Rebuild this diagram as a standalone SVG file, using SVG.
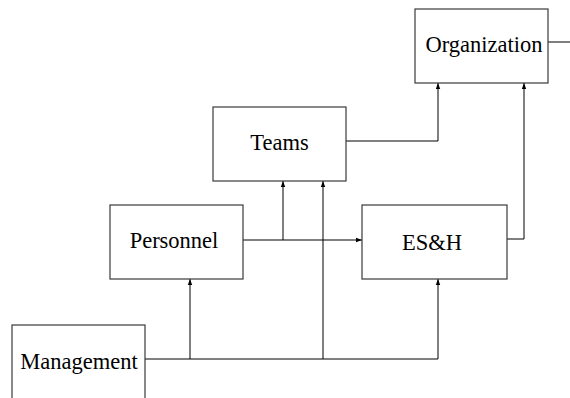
<svg xmlns="http://www.w3.org/2000/svg" width="570" height="398" viewBox="0 0 570 398">
  <style>
    .box { fill: #ffffff; stroke: #3a3a3a; stroke-width: 1.2; }
    .label { font-family: "Liberation Serif", "Times New Roman", serif; font-size: 22.5px; fill: #000000; text-anchor: middle; }
    .wire { fill: none; stroke: #000000; stroke-width: 1; }
  </style>
  <defs>
    <marker id="arrow" viewBox="0 0 6 6" refX="6" refY="3" markerWidth="6" markerHeight="6" markerUnits="userSpaceOnUse" orient="auto">
      <path d="M0,0.8 L6,3 L0,5.2 Z" fill="#000000"/>
    </marker>
  </defs>

  <!-- connectors -->
  <g id="connectors">
    <!-- Teams to Organization -->
    <polyline class="wire" points="346,141 438,141 438,83" marker-end="url(#arrow)"/>
    <!-- ES&H to Organization -->
    <polyline class="wire" points="507,239 524,239 524,83" marker-end="url(#arrow)"/>
    <!-- Organization outgoing -->
    <line class="wire" x1="548" y1="42" x2="570" y2="42"/>
    <!-- Personnel to ES&H -->
    <line class="wire" x1="243" y1="240" x2="362" y2="240" marker-end="url(#arrow)"/>
    <!-- Personnel branch to Teams -->
    <line class="wire" x1="283" y1="240" x2="283" y2="181" marker-end="url(#arrow)"/>
    <!-- Management trunk -->
    <line class="wire" x1="145" y1="359" x2="438" y2="359"/>
    <line class="wire" x1="190" y1="359" x2="190" y2="279" marker-end="url(#arrow)"/>
    <line class="wire" x1="323" y1="359" x2="323" y2="181" marker-end="url(#arrow)"/>
    <line class="wire" x1="438" y1="359" x2="438" y2="279" marker-end="url(#arrow)"/>
  </g>

  <!-- nodes -->
  <g id="organization">
    <rect class="box" x="415" y="9" width="133" height="74"/>
    <text class="label" x="484" y="52">Organization</text>
  </g>
  <g id="teams">
    <rect class="box" x="213" y="107" width="133" height="74"/>
    <text class="label" x="279.5" y="150">Teams</text>
  </g>
  <g id="personnel">
    <rect class="box" x="110" y="205" width="133" height="74"/>
    <text class="label" x="174" y="248">Personnel</text>
  </g>
  <g id="esh">
    <rect class="box" x="362" y="205" width="145" height="74"/>
    <text class="label" x="432" y="250">ES&amp;H</text>
  </g>
  <g id="management">
    <rect class="box" x="12" y="325" width="133" height="74"/>
    <text class="label" x="79" y="369">Management</text>
  </g>
</svg>
